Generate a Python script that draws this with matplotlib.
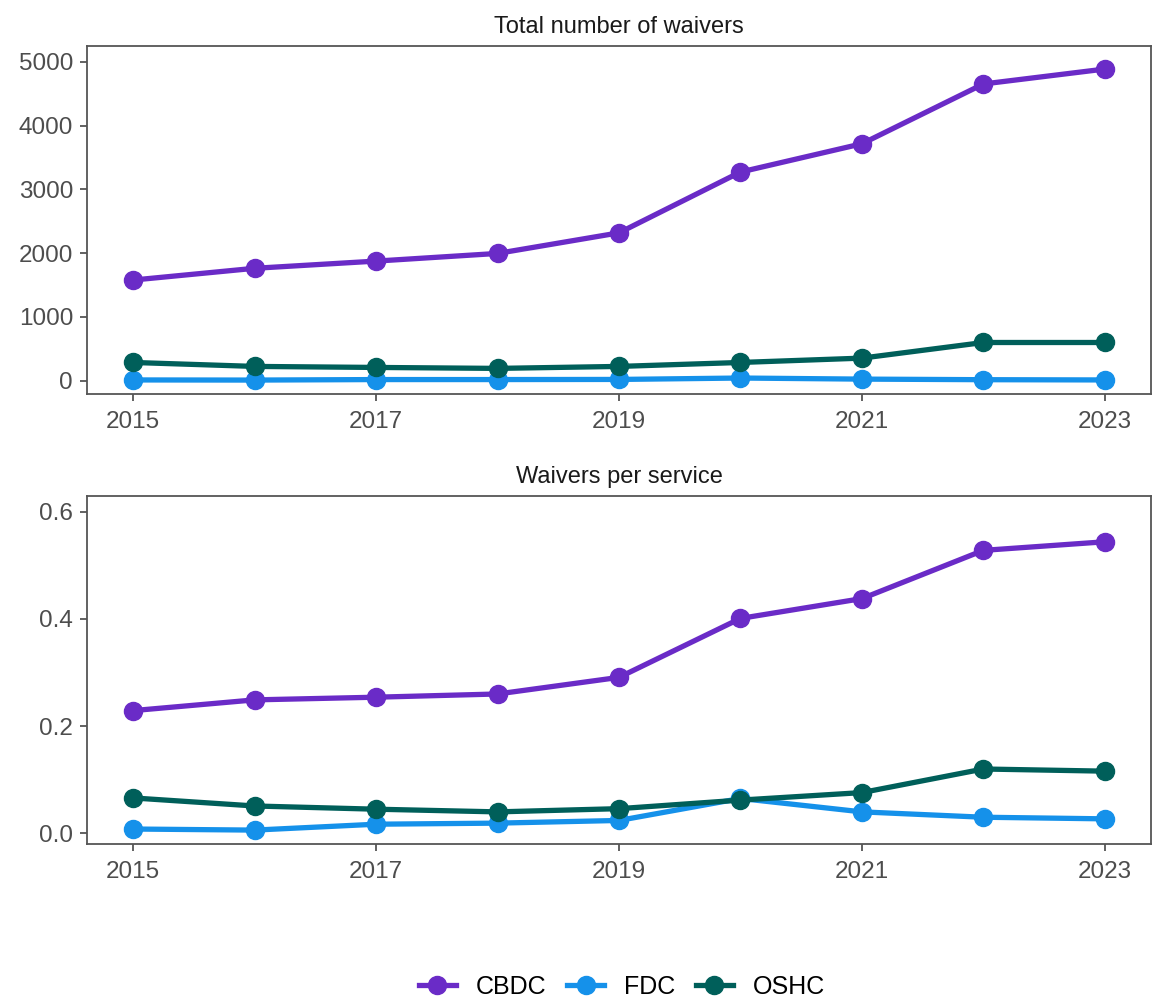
import matplotlib
matplotlib.use("Agg")
import matplotlib.pyplot as plt
from matplotlib.lines import Line2D

plt.rcParams['font.family'] = ['Liberation Sans', 'DejaVu Sans']

# --- data ---
years = [2015, 2016, 2017, 2018, 2019, 2020, 2021, 2022, 2023]
series = ['CBDC', 'FDC', 'OSHC']
colors = {'CBDC': '#6A2BC7', 'FDC': '#1591EA', 'OSHC': '#005F5A'}

total_cbdc = [1578, 1762, 1875, 1995, 2318, 3271, 3714, 4651, 4885]
total_fdc = [12, 10, 18, 18, 20, 42, 25, 16, 12]
total_oshc = [286, 224, 208, 193, 224, 286, 354, 599, 599]

per_cbdc = [0.229, 0.249, 0.254, 0.260, 0.291, 0.401, 0.438, 0.528, 0.544]
per_fdc = [0.008, 0.006, 0.017, 0.019, 0.024, 0.065, 0.040, 0.030, 0.027]
per_oshc = [0.066, 0.051, 0.045, 0.040, 0.046, 0.062, 0.076, 0.120, 0.116]

total_ticks = [0, 1000, 2000, 3000, 4000, 5000]
per_ticks = [0.0, 0.2, 0.4, 0.6]
per_labels = ['0.0', '0.2', '0.4', '0.6']
x_ticks = [2015, 2017, 2019, 2021, 2023]

W, H = 1152, 999
fig = plt.figure(figsize=(W / 100, H / 100), dpi=100)

def px_axes(left, top, right, bottom):
    return fig.add_axes([left / W, 1 - bottom / H, (right - left) / W, (bottom - top) / H])

ax1 = px_axes(87, 45.7, 1151, 394.3)
ax2 = px_axes(87, 495.7, 1151, 844.3)

def style(ax, title):
    for s in ax.spines.values():
        s.set_color('#555555')
        s.set_linewidth(1.3)
    ax.tick_params(colors='#555555', labelcolor='#4d4d4d', labelsize=17.5,
                   length=5, width=1.3)
    ax.tick_params(axis='y', pad=5)
    ax.tick_params(axis='x', pad=7)
    ax.set_title(title, fontsize=17, color='#1a1a1a', pad=9)
    ax.set_xlim(2014.62, 2023.38)
    ax.set_xticks(x_ticks)

panels = [
    (ax1, 'Total number of waivers', [total_cbdc, total_fdc, total_oshc]),
    (ax2, 'Waivers per service', [per_cbdc, per_fdc, per_oshc]),
]
for ax, title, vals in panels:
    style(ax, title)
    for name, v in zip(series, vals):
        ax.plot(years, v, color=colors[name], linewidth=3.8, marker='o',
                markersize=13, solid_capstyle='butt')

ax1.set_ylim(-213, 5251)
ax1.set_yticks(total_ticks)
ax2.set_ylim(-0.0205, 0.630)
ax2.set_yticks(per_ticks)
ax2.set_yticklabels(per_labels)

handles = [Line2D([0], [0], color=colors[n], linewidth=3.8, marker='o', markersize=13)
           for n in series]
fig.legend(handles, series, loc='center', bbox_to_anchor=(622 / W, 1 - 987 / H),
           ncol=3, frameon=False, fontsize=18, handlelength=1.5, handletextpad=0.8,
           columnspacing=0.8)

fig.savefig('out.png', dpi=100)
